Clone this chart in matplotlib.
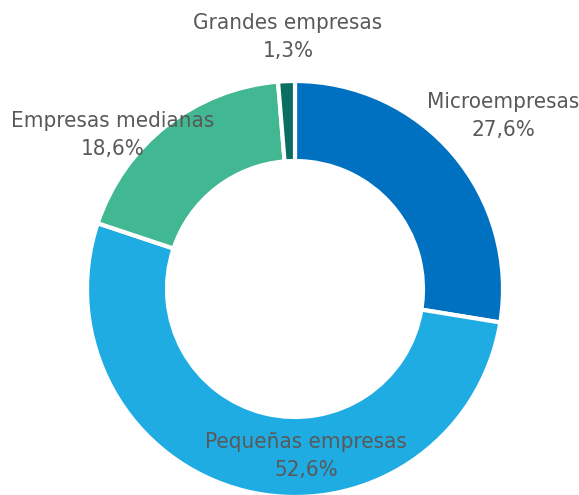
import matplotlib
matplotlib.use("Agg")
import matplotlib.pyplot as plt

# Distribución por tamaño de empresa
categories = ["Microempresas", "Pequeñas empresas", "Empresas medianas", "Grandes empresas"]
shares = [27.6, 52.6, 18.6, 1.3]
colors = ["#0070C0", "#1FACE3", "#41B792", "#0B6E62"]

plt.rcParams['font.family'] = ['DejaVu Sans']

W, H = 579, 495
fig = plt.figure(figsize=(W / 100, H / 100), dpi=100)
ax = fig.add_axes([0, 0, 1, 1])

# work in pixel units, y measured from the bottom
cx, cy = 295, H - 289
R, ring = 208, 80

ax.pie(shares, colors=colors, startangle=90, counterclock=False,
       center=(cx, cy), radius=R,
       wedgeprops=dict(width=ring, edgecolor="white", linewidth=3))

# label anchors (pixel coords, from top)
label_pos = {
    "Microempresas": (503, 116),
    "Pequeñas empresas": (306, 456),
    "Empresas medianas": (113, 135),
    "Grandes empresas": (288, 37),
}
for name, val in zip(categories, shares):
    x, y = label_pos[name]
    txt = f"{name}\n{val:.1f}%".replace(".", ",")
    ax.text(x, H - y, txt, ha="center", va="center", fontsize=16,
            fontstretch="condensed", color="#595959", linespacing=1.55)

ax.set_xlim(0, W)
ax.set_ylim(0, H)
ax.set_aspect("equal")
ax.axis("off")

fig.savefig("out.png", dpi=100)
